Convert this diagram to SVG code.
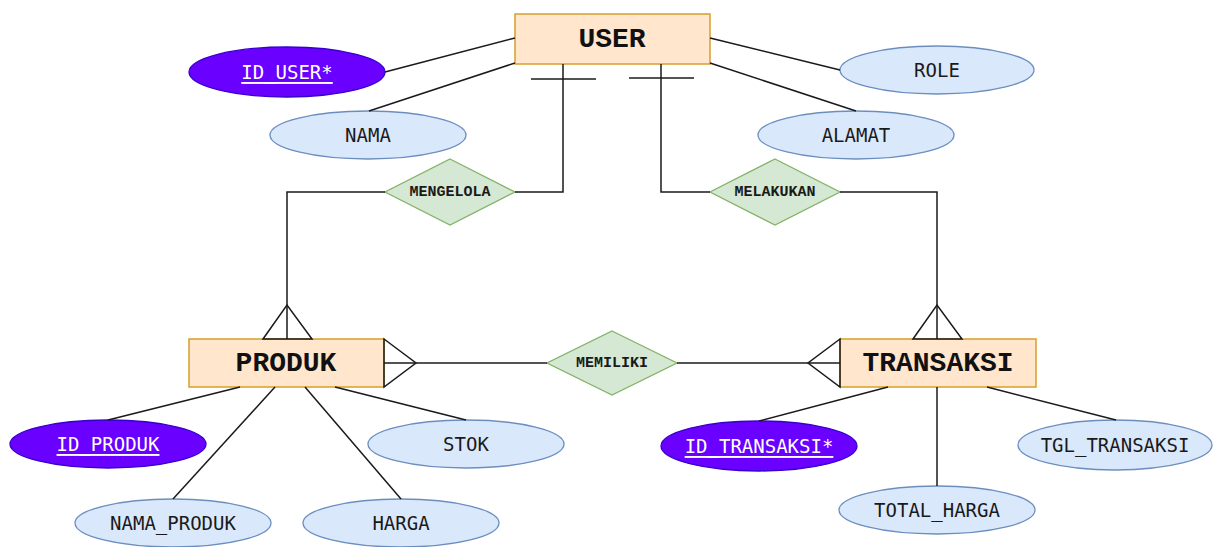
<svg xmlns="http://www.w3.org/2000/svg" width="1213" height="547" viewBox="0 0 1213 547">
<style>
.ent{fill:#ffe6cc;stroke:#d6a02a;stroke-width:1.5}
.entt{font-family:"Liberation Mono",monospace;font-weight:bold;font-size:28px;fill:#111;text-anchor:middle;dominant-baseline:central}
.att{fill:#dae8fc;stroke:#6c8ebf;stroke-width:1.3}
.key{fill:#6a00ff;stroke:#3700cc;stroke-width:1.3}
.attt{font-family:"DejaVu Sans Mono",monospace;font-size:19px;fill:#1a1a1a;text-anchor:middle;dominant-baseline:central}
.keyt{font-family:"DejaVu Sans Mono",monospace;font-size:19px;fill:#ffffff;text-anchor:middle;dominant-baseline:central;text-decoration:underline}
.rel{fill:#d5e8d4;stroke:#82b366;stroke-width:1.3}
.relt{font-family:"Liberation Mono",monospace;font-weight:bold;font-size:15px;fill:#1a1a1a;text-anchor:middle;dominant-baseline:central}
.ln{fill:none;stroke:#1a1a1a;stroke-width:1.5}
</style>
<g id="USER"><rect class="ent" x="515" y="14" width="195" height="50"/><text class="entt" x="612" y="39">USER</text></g>
<g id="PRODUK"><rect class="ent" x="189" y="339" width="195" height="48"/><text class="entt" x="286" y="363">PRODUK</text></g>
<g id="TRANSAKSI"><rect class="ent" x="840" y="339" width="196" height="48"/><text class="entt" x="938" y="363">TRANSAKSI</text></g>
<g id="ID_USER"><ellipse class="key" cx="287" cy="72" rx="98" ry="25"/><text class="keyt" x="287" y="72">ID_USER*</text></g>
<g id="NAMA"><ellipse class="att" cx="368" cy="135" rx="98" ry="24"/><text class="attt" x="368" y="135">NAMA</text></g>
<g id="ROLE"><ellipse class="att" cx="937" cy="70" rx="97" ry="24"/><text class="attt" x="937" y="70">ROLE</text></g>
<g id="ALAMAT"><ellipse class="att" cx="856" cy="135" rx="98" ry="24"/><text class="attt" x="856" y="135">ALAMAT</text></g>
<g id="ID_PRODUK"><ellipse class="key" cx="108" cy="444" rx="98" ry="24"/><text class="keyt" x="108" y="444">ID_PRODUK</text></g>
<g id="STOK"><ellipse class="att" cx="466" cy="444" rx="98" ry="24"/><text class="attt" x="466" y="444">STOK</text></g>
<g id="NAMA_PRODUK"><ellipse class="att" cx="173" cy="523" rx="98" ry="24"/><text class="attt" x="173" y="523">NAMA_PRODUK</text></g>
<g id="HARGA"><ellipse class="att" cx="401" cy="523" rx="98" ry="24"/><text class="attt" x="401" y="523">HARGA</text></g>
<g id="ID_TRANSAKSI"><ellipse class="key" cx="759" cy="446" rx="98" ry="25"/><text class="keyt" x="759" y="446">ID_TRANSAKSI*</text></g>
<g id="TOTAL_HARGA"><ellipse class="att" cx="937" cy="510" rx="98" ry="24"/><text class="attt" x="937" y="510">TOTAL_HARGA</text></g>
<g id="TGL_TRANSAKSI"><ellipse class="att" cx="1115" cy="445" rx="97" ry="25"/><text class="attt" x="1115" y="445">TGL_TRANSAKSI</text></g>
<g id="MENGELOLA"><polygon class="rel" points="450,159 515,192 450,225 385,192"/><text class="relt" x="450" y="192">MENGELOLA</text></g>
<g id="MELAKUKAN"><polygon class="rel" points="775,159 840,192 775,225 710,192"/><text class="relt" x="775" y="192">MELAKUKAN</text></g>
<g id="MEMILIKI"><polygon class="rel" points="612,331 677,363 612,395 547,363"/><text class="relt" x="612" y="363">MEMILIKI</text></g>
<g id="connectors">
<path class="ln" d="M515,38 L385,72"/>
<path class="ln" d="M515,63 L369,111"/>
<path class="ln" d="M710,38 L840,70"/>
<path class="ln" d="M710,63 L856,111"/>
<path class="ln" d="M563,64 V192 H515"/>
<path class="ln" d="M531,79 H596"/>
<path class="ln" d="M385,192 H287 V339"/>
<path class="ln" d="M263,339 L287,305 L312,339 Z"/>
<path class="ln" d="M661,64 V192 H710"/>
<path class="ln" d="M629,78 H694"/>
<path class="ln" d="M840,192 H937 V339"/>
<path class="ln" d="M913,339 L937,305 L962,339 Z"/>
<path class="ln" d="M384,363 H547"/>
<path class="ln" d="M384,339 L416,363 L384,387 Z"/>
<path class="ln" d="M677,363 H840"/>
<path class="ln" d="M840,339 L808,363 L840,387 Z"/>
<path class="ln" d="M240,387 L108,420"/>
<path class="ln" d="M275,387 L173,499"/>
<path class="ln" d="M305,387 L401,499"/>
<path class="ln" d="M335,387 L466,420"/>
<path class="ln" d="M888,387 L759,421"/>
<path class="ln" d="M937,387 V486"/>
<path class="ln" d="M987,387 L1116,420"/>
</g>
</svg>
